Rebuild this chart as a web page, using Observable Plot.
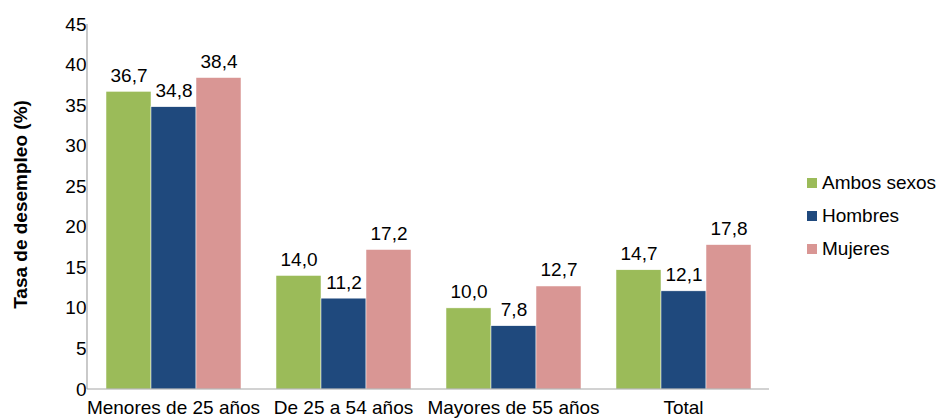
<!DOCTYPE html>
<html>
<head>
<meta charset="utf-8">
<script src="https://cdn.jsdelivr.net/npm/d3@7"></script>
<script src="https://cdn.jsdelivr.net/npm/@observablehq/plot@0.6"></script>
<style>
  body { margin: 0; background: #fff; font-family: "Liberation Sans", Arial, sans-serif; }
  #wrap { position: relative; width: 940px; height: 419px; }
  #legend { position: absolute; left: 807px; top: 166px; font-size: 19px; color: #000; }
  #legend .row { display: flex; align-items: center; height: 33px; }
  #legend .sw { width: 10px; height: 10px; margin-right: 5px; }
</style>
</head>
<body>
<div id="wrap"></div>
<script>
const groups = ["Menores de 25 años", "De 25 a 54 años", "Mayores de 55 años", "Total"];
const series = ["Ambos sexos", "Hombres", "Mujeres"];
const colors = ["#9BBB59", "#1F497D", "#D99694"];
const ambos = [36.7, 14.0, 10.0, 14.7];
const hombres = [34.8, 11.2, 7.8, 12.1];
const mujeres = [38.4, 17.2, 12.7, 17.8];
const yTicks = [0, 5, 10, 15, 20, 25, 30, 35, 40, 45];
const yLabel = "Tasa de desempleo (%)";

const values = [ambos, hombres, mujeres];
const data = [];
groups.forEach((g, gi) => series.forEach((s, si) => data.push({group: g, series: s, value: values[si][gi]})));

const fmt = v => d3.format(".1f")(v).replace(".", ",");
const W = 940, H = 419, mL = 87, mR = 171, mT = 24, mB = 30;

const chart = Plot.plot({
  width: W, height: H,
  marginLeft: mL, marginRight: mR, marginTop: mT, marginBottom: mB,
  style: {fontFamily: "'Liberation Sans', Arial, sans-serif", fontSize: "19px", color: "#000", background: "#fff", overflow: "visible"},
  fx: {domain: groups, paddingInner: 0.2, paddingOuter: 0.1, label: null},
  x: {domain: series, padding: 0, axis: null},
  y: {domain: [0, 45], ticks: yTicks},
  color: {domain: series, range: colors},
  marks: [
    Plot.axisY({ticks: yTicks, tickSize: 0, tickPadding: 19, label: null, fontSize: 19}),
    Plot.axisFx({anchor: "bottom", tickSize: 0, tickPadding: 11, label: null, fontSize: 19}),
    Plot.barY(data, {fx: "group", x: "series", y: "value", fill: "series", stroke: "#fff", strokeWidth: 0.5}),
    Plot.text(data, {fx: "group", x: "series", y: "value", text: d => fmt(d.value), lineAnchor: "bottom", dy: -10, fontSize: 19, fill: "#000"})
  ]
});

const wrap = document.getElementById("wrap");
wrap.appendChild(chart);

const y = chart.scale("y");
const svg = d3.select(chart);
// axis lines spanning the whole plot area
svg.append("line")
  .attr("x1", mL).attr("x2", W - mR)
  .attr("y1", y.apply(0)).attr("y2", y.apply(0))
  .attr("stroke", "#a6a6a6").attr("stroke-width", 1.2);
svg.append("line")
  .attr("x1", mL).attr("x2", mL)
  .attr("y1", y.apply(0)).attr("y2", y.apply(45))
  .attr("stroke", "#a6a6a6").attr("stroke-width", 1.2);
// y-axis title
const yc = (y.apply(0) + y.apply(45)) / 2 - 2;
svg.append("text")
  .attr("transform", `translate(20,${yc}) rotate(-90)`)
  .attr("text-anchor", "middle")
  .attr("dominant-baseline", "central")
  .attr("font-weight", "bold")
  .attr("font-size", 19)
  .attr("fill", "#000")
  .text(yLabel);

// legend
const legend = document.createElement("div");
legend.id = "legend";
series.forEach((s, i) => {
  const row = document.createElement("div");
  row.className = "row";
  const sw = document.createElement("div");
  sw.className = "sw";
  sw.style.background = colors[i];
  const t = document.createElement("span");
  t.textContent = s;
  row.appendChild(sw); row.appendChild(t);
  legend.appendChild(row);
});
wrap.appendChild(legend);
</script>
</body>
</html>
